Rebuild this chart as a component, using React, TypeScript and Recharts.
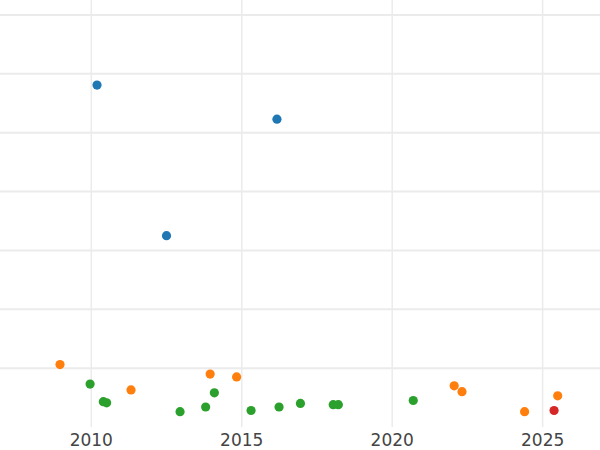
import React from "react";
import { ScatterChart, Scatter, XAxis, YAxis, CartesianGrid } from "recharts";

const blueYears = [2010.19, 2016.17, 2012.5];
const blueValues = [5.81, 5.23, 3.25];

const orangeYears = [2008.96, 2011.32, 2013.95, 2014.83, 2022.06, 2022.32, 2024.4, 2025.5];
const orangeValues = [1.06, 0.63, 0.9, 0.85, 0.7, 0.6, 0.26, 0.53];

const greenYears = [2009.96, 2010.4, 2010.51, 2012.95, 2013.8, 2014.09, 2015.31, 2016.24, 2016.95, 2018.04, 2018.21, 2020.7];
const greenValues = [0.73, 0.43, 0.41, 0.26, 0.34, 0.58, 0.28, 0.34, 0.4, 0.38, 0.38, 0.45];

const redYears = [2025.38];
const redValues = [0.28];

const xTicks = [2010, 2015, 2020, 2025];
const yGridValues = [1, 2, 3, 4, 5, 6, 7];

const toPoints = (xs: number[], ys: number[]) => xs.map((x, i) => ({ x, y: ys[i] }));

const dot = (color: string) => (props: any) => (
  <circle cx={props.cx} cy={props.cy} r={4.6} fill={color} />
);

const noTick = () => <g />;

export default function App() {
  return (
    <div style={{ position: "absolute", left: 0, top: 0, background: "#fff" }}>
      <ScatterChart width={600} height={450} margin={{ top: 0, right: 0, bottom: 0, left: 0 }}>
        <CartesianGrid horizontal={true} vertical={false} syncWithTicks stroke="#ebebeb" strokeWidth={2} />
        <CartesianGrid horizontal={false} vertical={true} syncWithTicks stroke="#ebebeb" strokeWidth={1.5} />
        <XAxis
          type="number"
          dataKey="x"
          domain={[2006.966, 2026.906]}
          allowDataOverflow
          ticks={xTicks}
          height={23}
          axisLine={false}
          tickLine={false}
          tickSize={0}
          tickMargin={7}
          tick={{ fill: "#444", fontSize: 17, fontFamily: "DejaVu Sans" }}
          interval={0}
        />
        <YAxis
          type="number"
          dataKey="y"
          domain={[0, 7.255]}
          allowDataOverflow
          ticks={yGridValues}
          interval={0}
          width={0}
          axisLine={false}
          tickLine={false}
          tick={noTick}
        />
        <Scatter data={toPoints(blueYears, blueValues)} shape={dot("#1f77b4")} isAnimationActive={false} />
        <Scatter data={toPoints(orangeYears, orangeValues)} shape={dot("#ff7f0e")} isAnimationActive={false} />
        <Scatter data={toPoints(greenYears, greenValues)} shape={dot("#2ca02c")} isAnimationActive={false} />
        <Scatter data={toPoints(redYears, redValues)} shape={dot("#d62728")} isAnimationActive={false} />
      </ScatterChart>
    </div>
  );
}
